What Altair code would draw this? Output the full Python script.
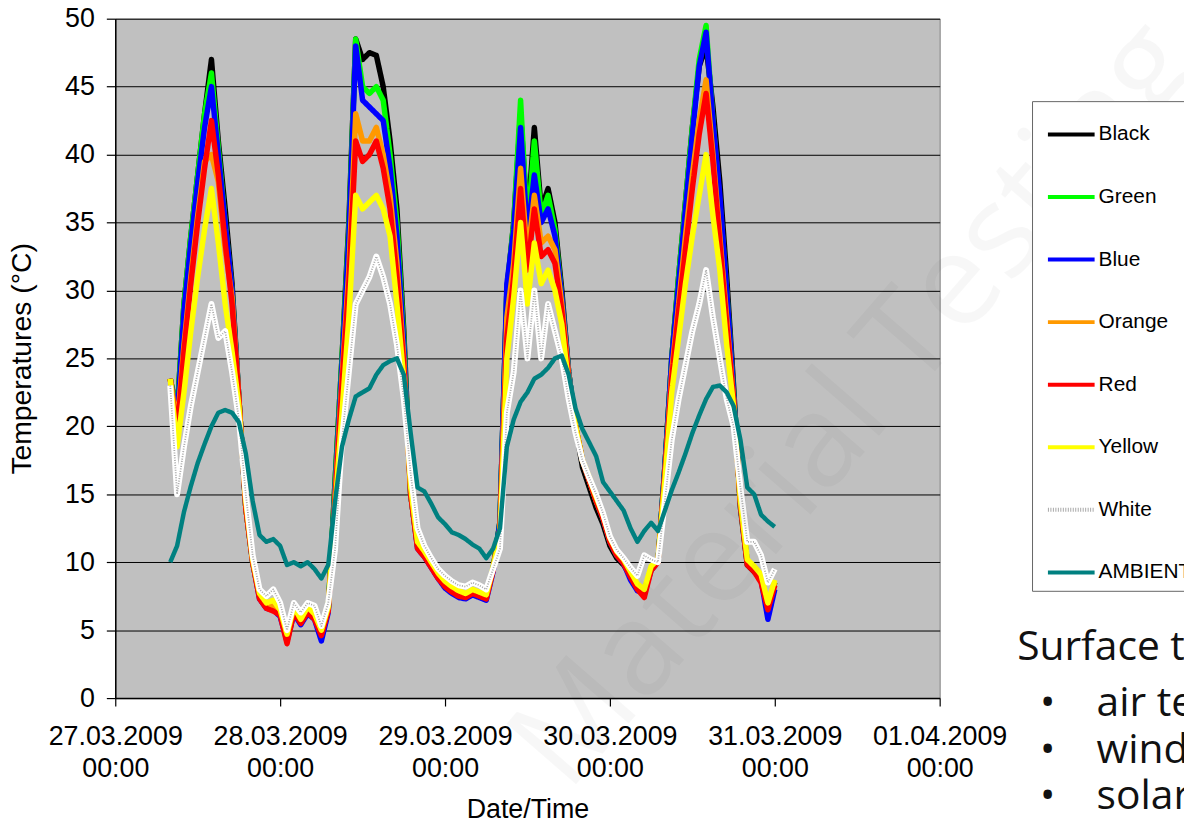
import altair as alt
import pandas as pd

# hours after 27.03.2009 00:00 (UTC), one reading per hour
hours = list(range(8, 97))

black = [23.5, 21.0, 29.0, 34.0, 38.5, 43.0, 47.0, 41.0, 36.0, 30.5,
         22.0, 14.0, 10.0, 7.5, 6.8, 6.8, 6.3, 4.5, 6.5, 5.6,
         6.5, 6.0, 4.8, 6.5, 16.0, 25.0, 35.0, 48.5, 47.0, 47.5,
         47.3, 45.0, 41.0, 36.0, 27.0, 15.0, 11.2, 10.6, 9.8, 9.0,
         8.4, 8.0, 7.7, 7.5, 7.8, 7.6, 7.4, 9.5, 13.0, 30.0,
         35.0, 43.0, 35.0, 42.0, 36.0, 37.5, 35.0, 30.0, 24.0, 20.0,
         17.0, 15.5, 14.0, 12.8, 11.2, 10.3, 9.8, 9.0, 8.2, 7.8,
         9.5, 10.0, 17.0, 25.0, 31.0, 36.5, 42.0, 46.5, 48.0, 43.5,
         38.0, 31.0, 23.0, 14.0, 9.8, 9.3, 8.8, 6.8, 8.5]
green = [23.5, 21.0, 29.0, 34.0, 38.5, 43.0, 46.0, 40.5, 35.0, 30.0,
         22.0, 14.0, 10.0, 7.5, 6.8, 6.8, 6.3, 4.5, 6.5, 5.6,
         6.5, 6.0, 4.8, 6.5, 16.0, 25.0, 34.5, 48.5, 45.0, 44.5,
         45.0, 44.0, 40.0, 35.0, 26.5, 15.0, 11.2, 10.6, 9.8, 9.0,
         8.4, 8.0, 7.7, 7.5, 7.8, 7.6, 7.4, 9.5, 13.0, 30.0,
         35.0, 44.0, 34.5, 41.0, 35.5, 37.0, 34.5, 29.5, 24.0, 20.0,
         17.5, 16.0, 14.5, 13.2, 11.5, 10.5, 10.0, 9.1, 8.2, 7.8,
         9.5, 10.0, 17.0, 25.0, 31.0, 36.5, 42.0, 47.0, 49.5, 42.5,
         36.5, 30.0, 22.5, 14.2, 10.0, 9.5, 8.9, 6.8, 8.5]
blue = [23.5, 20.5, 28.5, 33.5, 38.0, 42.0, 45.0, 40.0, 35.0, 30.0,
        22.0, 14.0, 10.0, 7.3, 6.6, 6.5, 6.0, 4.2, 6.2, 5.4,
        6.2, 5.8, 4.2, 6.3, 15.5, 24.5, 34.0, 48.0, 44.0, 43.5,
        43.0, 42.5, 39.0, 34.0, 26.0, 15.0, 11.0, 10.4, 9.6, 8.8,
        8.1, 7.7, 7.4, 7.3, 7.6, 7.4, 7.2, 9.3, 13.0, 30.5,
        34.5, 42.0, 34.0, 38.5, 35.0, 36.0, 34.0, 29.5, 24.0, 20.0,
        17.5, 16.0, 14.5, 13.2, 11.5, 10.5, 9.9, 8.7, 7.9, 7.7,
        9.4, 10.0, 17.0, 25.0, 30.5, 36.0, 41.5, 46.5, 49.0, 42.5,
        37.0, 30.0, 22.5, 14.2, 10.0, 9.4, 8.7, 5.8, 8.0]
orange = [23.5, 20.0, 26.0, 31.0, 35.5, 39.5, 40.0, 38.0, 33.0, 29.5,
          22.0, 14.0, 10.0, 7.5, 6.8, 6.8, 6.3, 4.5, 6.5, 5.6,
          6.5, 6.0, 4.8, 6.5, 15.0, 23.5, 31.5, 43.0, 41.0, 41.0,
          42.0, 40.0, 37.0, 32.0, 25.0, 15.0, 11.2, 10.6, 9.8, 9.0,
          8.4, 8.0, 7.7, 7.5, 7.8, 7.6, 7.4, 9.5, 12.5, 28.0,
          32.0, 39.0, 32.5, 37.0, 33.5, 34.0, 33.0, 29.0, 23.8, 20.0,
          17.5, 16.0, 14.5, 13.3, 11.6, 10.6, 10.0, 9.0, 8.2, 7.8,
          9.5, 10.0, 16.5, 24.0, 29.0, 34.0, 38.5, 42.5, 45.5, 40.0,
          34.0, 28.0, 22.0, 14.2, 10.0, 9.5, 8.9, 6.8, 8.5]
red = [23.5, 19.5, 25.5, 30.5, 35.0, 39.0, 42.5, 38.5, 33.5, 29.0,
       22.0, 14.0, 10.0, 7.3, 6.6, 6.4, 6.1, 4.0, 6.3, 5.5,
       6.3, 5.8, 4.6, 6.4, 14.5, 23.0, 30.5, 41.0, 39.5, 40.0,
       41.0, 39.0, 36.0, 31.0, 24.5, 15.0, 11.0, 10.4, 9.6, 8.8,
       8.2, 7.8, 7.5, 7.4, 7.7, 7.5, 7.3, 9.4, 12.5, 26.5,
       31.0, 37.5, 31.5, 36.0, 32.5, 33.0, 32.0, 28.5, 23.5, 20.0,
       17.5, 16.0, 14.5, 13.2, 11.5, 10.5, 9.9, 8.9, 8.0, 7.4,
       9.4, 10.0, 16.5, 23.5, 28.5, 33.0, 37.5, 41.5, 44.5, 39.5,
       33.5, 27.5, 22.0, 14.2, 9.8, 9.3, 8.5, 6.5, 8.3]
yellow = [23.5, 18.5, 22.5, 27.0, 31.0, 34.5, 37.5, 33.5, 29.0, 25.5,
          21.5, 14.5, 10.2, 7.7, 7.0, 7.2, 6.5, 4.7, 6.7, 5.8,
          6.7, 6.2, 5.0, 6.7, 14.0, 21.0, 28.0, 37.0, 36.0, 36.5,
          37.0, 36.0, 34.0, 29.0, 23.5, 15.5, 11.5, 10.8, 10.0, 9.2,
          8.6, 8.2, 7.9, 7.7, 8.0, 7.8, 7.6, 9.6, 12.0, 25.0,
          29.5, 35.0, 29.0, 33.5, 30.5, 31.5, 30.0, 27.5, 23.0, 20.0,
          17.5, 16.2, 14.8, 13.5, 11.8, 10.8, 10.2, 9.3, 8.4, 8.0,
          9.7, 10.2, 16.0, 22.5, 26.5, 30.5, 34.0, 37.0, 40.0, 35.5,
          31.5, 26.0, 21.5, 14.5, 10.2, 9.7, 9.1, 7.0, 8.7]
white = [23.0, 15.0, 18.5, 21.5, 24.0, 26.5, 29.0, 26.5, 27.0, 24.0,
         20.5, 15.0, 10.5, 8.0, 7.5, 8.0, 7.0, 5.0, 7.0, 6.3,
         7.0, 6.8, 5.3, 7.0, 11.0, 19.0, 24.0, 29.0, 30.0, 31.0,
         32.5, 31.0, 29.0, 26.0, 22.0, 16.5, 12.5, 11.2, 10.3, 9.5,
         9.0, 8.6, 8.3, 8.2, 8.5, 8.3, 8.0, 9.5, 11.0, 21.0,
         24.0, 30.0, 25.0, 30.0, 25.0, 29.0, 27.0, 25.0, 22.0, 19.5,
         17.5, 16.2, 15.0, 13.6, 11.9, 10.9, 10.3, 9.6, 9.0, 10.5,
         10.2, 10.0, 14.5, 19.0, 22.0, 24.5, 27.0, 29.0, 31.5, 28.0,
         25.0, 22.0, 20.0, 15.5, 11.5, 11.5, 10.5, 8.5, 9.5]
ambient = [10.0, 11.2, 13.7, 15.6, 17.3, 18.7, 20.0, 21.0, 21.2, 21.0,
           20.3, 18.0, 14.5, 12.0, 11.5, 11.7, 11.2, 9.8, 10.0, 9.7,
           10.0, 9.5, 8.8, 9.8, 14.5, 18.5, 20.5, 22.2, 22.5, 22.8,
           23.8, 24.5, 24.8, 25.0, 23.8, 19.5, 15.5, 15.2, 14.3, 13.3,
           12.8, 12.2, 12.0, 11.7, 11.3, 11.0, 10.3, 11.0, 12.5, 18.5,
           20.5, 21.8, 22.5, 23.5, 23.8, 24.3, 25.0, 25.2, 23.8, 21.3,
           19.8, 18.8, 17.8, 15.9, 15.2, 14.5, 13.8, 12.5, 11.5, 12.3,
           12.9, 12.3, 13.8, 15.3, 16.6, 18.0, 19.5, 20.8, 22.0, 22.9,
           23.0, 22.5, 21.5, 19.0, 15.5, 15.0, 13.5, 13.0, 12.6]

series_names = ["Black", "Green", "Blue", "Orange", "Red", "Yellow", "White", "AMBIENT"]
series_values = [black, green, blue, orange, red, yellow, white, ambient]
series_colors = ["#000000", "#00FF00", "#0000FF", "#FF9900", "#FF0000", "#FFFF00", "#A8A8A8", "#008080"]
series_dash = [[1, 0], [1, 0], [1, 0], [1, 0], [1, 0], [1, 0], [1, 1.5], [1, 0]]

base = pd.Timestamp("2009-03-27T00:00:00")
rows = []
for name, vals in zip(series_names, series_values):
    for h, v in zip(hours, vals):
        t = (base + pd.Timedelta(hours=h)).strftime("%Y-%m-%dT%H:%M:%SZ")
        rows.append({"series": name, "time": t, "value": v})
df = pd.DataFrame(rows)

FONT = "Liberation Sans"

day_ticks = [alt.DateTime(year=2009, month=3, date=d, utc=True) for d in range(27, 32)] + \
            [alt.DateTime(year=2009, month=4, date=1, utc=True)]

x_enc = alt.X(
    "time:T",
    scale=alt.Scale(type="utc", domain=[day_ticks[0], day_ticks[-1]]),
    axis=alt.Axis(
        values=day_ticks, grid=False, tickSize=8, labelPadding=18,
        labelExpr="[utcFormat(datum.value, '%d.%m.%Y'), '00:00']",
        labelLineHeight=32, labelBaseline="top", labelFlush=False,
        labelOverlap=False, titleY=120, titleBaseline="alphabetic",
        titleAnchor="middle",
    ),
    title="Date/Time",
)
y_enc = alt.Y(
    "value:Q",
    scale=alt.Scale(domain=[0, 50], nice=False),
    axis=alt.Axis(
        values=list(range(0, 51, 5)), grid=True, tickSize=9, labelPadding=12,
        titleX=-94, titleY=342, titleAngle=270, titleAlign="center",
        titleBaseline="middle", titleFontSize=28.5,
    ),
    title="Temperatures (°C)",
)
legend = alt.Legend(
    orient="none", legendX=923, legendY=83, title=None,
    symbolType="stroke", symbolSize=2209, symbolStrokeWidth=4,
    symbolOffset=6, labelOffset=2, rowPadding=27, padding=8,
)
color_enc = alt.Color("series:N", scale=alt.Scale(domain=series_names, range=series_colors), legend=legend)
dash_enc = alt.StrokeDash("series:N", scale=alt.Scale(domain=series_names, range=series_dash), legend=legend)


def series_layer(name, width):
    return alt.Chart(df).transform_filter(alt.datum.series == name).mark_line(
        strokeWidth=width, strokeJoin="round"
    ).encode(x=x_enc, y=y_enc, color=color_enc, strokeDash=dash_enc)


layers = [series_layer(n, 5.5) for n in ["Black", "Green", "Blue", "Orange", "Red", "Yellow"]]
white_base = alt.Chart(df).transform_filter(alt.datum.series == "White").mark_line(
    strokeWidth=6, color="#FFFFFF", strokeJoin="round"
).encode(x=x_enc, y=y_enc)
layers.append(white_base)
layers.append(series_layer("White", 1.8))
layers.append(series_layer("AMBIENT", 4.5))

one = alt.Data(values=[{}])
watermark = alt.Chart(one).mark_text(
    text="Material Testing", font="Open Sans", fontSize=130, angle=311,
    align="center", baseline="middle", fill="#000000", fillOpacity=0.03,
).encode(x=alt.value(744), y=alt.value(389))

side_font = "Open Sans"
side_color = "#111111"
texts = [
    alt.Chart(one).mark_text(text="Surface temperatures depend on", font=side_font, fontSize=41,
                             align="left", baseline="alphabetic", color=side_color)
    .encode(x=alt.value(908), y=alt.value(646)),
]
for label, yy in [("air temperature", 702), ("wind speed", 749), ("solar radiation", 796)]:
    texts.append(alt.Chart(one).mark_text(text="•", font=side_font, fontSize=41,
                                          align="left", baseline="alphabetic", color=side_color)
                 .encode(x=alt.value(931), y=alt.value(yy)))
    texts.append(alt.Chart(one).mark_text(text=label, font=side_font, fontSize=41,
                                          align="left", baseline="alphabetic", color=side_color)
                 .encode(x=alt.value(988), y=alt.value(yy)))

chart = alt.layer(*layers, watermark, *texts).properties(
    width=830, height=684, autosize="none",
    padding={"left": 108, "top": 8, "right": 246, "bottom": 122},
    background="#FFFFFF",
).configure_view(
    fill="#C0C0C0", stroke="#808080", strokeWidth=1,
).configure_axis(
    labelFont=FONT, labelFontSize=27, labelColor="#000000",
    titleFont=FONT, titleFontSize=27, titleFontWeight="normal", titleColor="#000000",
    domainColor="#000000", domainWidth=1.5, tickColor="#000000", tickWidth=1.2,
    gridColor="#000000", gridWidth=1, gridOpacity=1,
).configure_legend(
    labelFont=FONT, labelFontSize=21, labelColor="#000000",
    strokeColor="#666666", fillColor="#FFFFFF", labelLimit=300,
)

chart.save("out.html", embed_options={"renderer": "svg", "actions": False})
